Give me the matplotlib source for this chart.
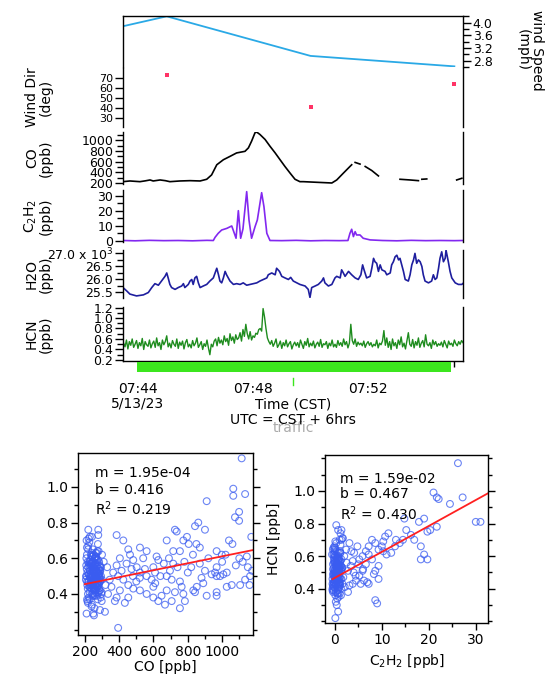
import numpy as np
import matplotlib.pyplot as plt
from matplotlib.ticker import MultipleLocator, FixedLocator
from matplotlib.patches import Rectangle
import matplotlib.transforms as mtransforms

plt.rcParams['font.family'] = 'DejaVu Sans'
plt.rcParams['font.size'] = 10
plt.rcParams['axes.linewidth'] = 1.0

# --- time series (time in minutes after 07:00 CST) ---
wind_time = [40.0, 45.0, 50.0, 55.0]
wind_speed = [3.17, 4.20, 2.95, 2.62]
wdir_time = [45.0, 50.0, 55.0]
wind_dir = [72, 41, 64]

nan = np.nan
co_time = [43.48, 43.72, 44.07, 44.25, 44.42, 44.53, 44.77, 44.95, 45.11, 45.46, 45.81, 46.16,
           46.39, 46.56, 46.74, 46.97, 47.20, 47.43, 47.72, 47.84, 47.95, 48.07, 48.13, 48.24,
           48.42, 48.59, 48.77, 48.94, 49.11, 49.29, 49.46, 49.63, 49.75, 50.22, 50.74, 50.91,
           51.14, 51.37, 51.43, 51.49, 51.55, 51.72, 51.81, 51.90, 52.13, 52.36, 52.70, 53.11,
           53.46, 53.75, 53.81, 53.87, 54.04, 54.50, 55.08, 55.26]
co_ppb = [225, 238, 225, 240, 257, 238, 257, 244, 225, 238, 244, 238,
          270, 352, 543, 638, 701, 766, 796, 861, 987, 1147, 1158, 1114,
          1019, 892, 766, 638, 511, 385, 270, 225, 225, 213, 200, 257,
          385, 511, 543, nan, 587, 556, nan, 511, 434, 333, nan, 270,
          257, 244, nan, 270, 276, nan, 257, 289]

c2h2_time = [43.48, 43.90, 44.40, 44.90, 45.40, 45.90, 46.40, 46.62, 46.68, 46.79, 46.91, 47.09,
             47.26, 47.31, 47.41, 47.49, 47.57, 47.65, 47.78, 47.86, 47.95, 48.07, 48.15, 48.30,
             48.38, 48.48, 48.59, 49.00, 49.50, 50.00, 50.50, 51.00, 51.30, 51.37, 51.43, 51.49,
             51.55, 51.60, 51.72, 51.83, 52.07, 52.50, 53.00, 53.50, 54.00, 54.50, 55.00, 55.30]
c2h2_ppb = [0.3, 0.1, 0.4, 0.2, 0.3, 0.1, 0.4, 0.3, 2.4, 5.1, 7.3, 8.4,
            10.0, 7.3, 1.8, 20.2, 1.8, 8.0, 32.9, 14.0, 1.8, 9.5, 14.0, 32.2,
            22.9, 5.1, 0.3, 0.2, 0.4, 0.1, 0.3, 0.2, 0.3, 5.1, 7.8, 2.9,
            6.2, 4.0, 4.0, 1.8, 0.7, 0.3, 0.1, 0.4, 0.2, 0.3, 0.2, 0.3]

h2o_time = [43.48, 43.61, 43.72, 43.95, 44.19, 44.36, 44.48, 44.59, 44.71, 44.82, 44.94, 45.00,
            45.05, 45.11, 45.17, 45.29, 45.40, 45.52, 45.58, 45.63, 45.75, 45.81, 45.87, 45.92,
            45.98, 46.04, 46.10, 46.16, 46.27, 46.39, 46.50, 46.62, 46.68, 46.74, 46.80, 46.85,
            46.91, 46.97, 47.03, 47.08, 47.20, 47.32, 47.43, 47.55, 47.66, 47.78, 47.90, 48.01,
            48.13, 48.24, 48.36, 48.48, 48.53, 48.65, 48.77, 48.82, 48.92, 49.00, 49.11, 49.23,
            49.31, 49.40, 49.52, 49.63, 49.81, 49.92, 49.98, 50.04, 50.16, 50.27, 50.39, 50.45,
            50.50, 50.62, 50.74, 50.85, 50.91, 51.03, 51.08, 51.14, 51.20, 51.32, 51.43, 51.55,
            51.66, 51.75, 51.81, 51.86, 51.95, 52.07, 52.13, 52.19, 52.24, 52.30, 52.36, 52.42,
            52.48, 52.59, 52.65, 52.77, 52.82, 52.88, 52.94, 53.00, 53.06, 53.11, 53.17, 53.23,
            53.29, 53.40, 53.46, 53.52, 53.58, 53.63, 53.69, 53.75, 53.81, 53.87, 53.92, 53.98,
            54.10, 54.21, 54.27, 54.33, 54.39, 54.45, 54.50, 54.56, 54.62, 54.68, 54.71, 54.79,
            54.85, 54.91, 55.03, 55.14, 55.26, 55.32]
h2o_ppb_k = [25.68, 25.55, 25.43, 25.36, 25.40, 25.49, 25.68, 25.83, 25.77, 25.93, 26.11, 26.24,
             26.05, 25.80, 25.68, 25.61, 25.68, 25.74, 25.83, 25.68, 25.80, 25.93, 25.99, 25.80,
             26.05, 26.11, 25.86, 25.68, 25.74, 25.80, 25.93, 26.05, 26.24, 26.42, 26.17, 25.93,
             25.86, 26.05, 26.30, 26.17, 25.93, 25.80, 25.83, 25.80, 25.86, 25.77, 25.80, 25.83,
             25.86, 25.93, 25.99, 26.05, 26.17, 26.24, 26.17, 26.42, 26.30, 26.11, 26.05, 25.99,
             26.07, 25.93, 25.86, 25.80, 25.74, 25.61, 25.30, 25.68, 25.74, 25.80, 25.93, 26.05,
             25.86, 25.74, 25.80, 26.05, 26.11, 26.05, 26.36, 26.24, 26.11, 26.30, 26.17, 26.05,
             25.99, 26.17, 26.55, 26.36, 26.05, 26.11, 26.42, 26.80, 26.67, 26.61, 26.30, 26.55,
             26.36, 26.30, 26.17, 26.24, 26.55, 26.67, 26.86, 26.92, 26.74, 26.80, 26.55, 26.30,
             25.99, 25.93, 26.17, 26.55, 26.74, 26.99, 26.61, 26.74, 26.67, 26.49, 26.17, 25.93,
             25.86, 25.93, 26.17, 25.99, 26.05, 26.42, 26.80, 27.05, 26.67, 26.80, 27.11, 26.67,
             26.30, 26.05, 25.86, 25.80, 25.80, 25.86]

# HCN logged every 3 s, starting 07:43:30
hcn_start = 43.50
hcn_step = 0.05
hcn_ppb = [
    0.52, 0.45, 0.58, 0.41, 0.55, 0.48, 0.60, 0.44, 0.50, 0.57, 0.42, 0.53, 0.47, 0.61, 0.40, 0.55, 0.49, 0.46, 0.58, 0.43,
    0.51, 0.56, 0.44, 0.62, 0.47, 0.53, 0.40, 0.58, 0.49, 0.55, 0.66, 0.45, 0.52, 0.43, 0.57, 0.50, 0.46, 0.60, 0.42, 0.54,
    0.48, 0.56, 0.41, 0.53, 0.59, 0.45, 0.50, 0.43, 0.57, 0.47, 0.52, 0.62, 0.44, 0.49, 0.55, 0.40, 0.51, 0.46, 0.58, 0.43,
    0.30, 0.50, 0.45, 0.56, 0.60, 0.47, 0.63, 0.52, 0.58, 0.49, 0.66, 0.55, 0.61, 0.48, 0.70, 0.57, 0.64, 0.52, 0.68, 0.59,
    0.62, 0.72, 0.56, 0.78, 0.65, 0.88, 0.70, 0.60, 0.74, 0.58, 0.66, 0.63, 0.71, 0.69, 0.78, 0.80, 0.75, 1.18, 1.02, 0.80,
    0.62, 0.55, 0.50, 0.57, 0.46, 0.52, 0.60, 0.44, 0.49, 0.56, 0.42, 0.53, 0.47, 0.58, 0.45, 0.51, 0.55, 0.41, 0.49, 0.54,
    0.47, 0.53, 0.44, 0.58, 0.50, 0.42, 0.55, 0.48, 0.61, 0.45, 0.52, 0.47, 0.56, 0.43, 0.50, 0.54, 0.46, 0.59, 0.44, 0.51,
    0.49, 0.55, 0.42, 0.52, 0.47, 0.58, 0.45, 0.50, 0.44, 0.57, 0.48, 0.53, 0.46, 0.60, 0.49, 0.55, 0.43, 0.52, 0.88, 0.57,
    0.50, 0.60, 0.46, 0.54, 0.49, 0.52, 0.47, 0.56, 0.44, 0.51, 0.55, 0.48, 0.53, 0.45, 0.50, 0.47, 0.58, 0.43, 0.52, 0.49,
    0.56, 0.76, 0.48, 0.62, 0.44, 0.55, 0.40, 0.60, 0.47, 0.53, 0.42, 0.58, 0.49, 0.64, 0.45, 0.52, 0.41, 0.57, 0.72, 0.50,
    0.46, 0.59, 0.43, 0.55, 0.48, 0.62, 0.44, 0.52, 0.57, 0.45, 0.68, 0.50, 0.47, 0.53, 0.42, 0.58, 0.49, 0.55, 0.46, 0.51,
    0.48, 0.54, 0.45, 0.57, 0.50, 0.43, 0.56, 0.49, 0.52, 0.46, 0.58, 0.51, 0.47, 0.55, 0.50, 0.57, 0.53]

traffic_start, traffic_end = 43.97, 54.89
traffic_mark = 49.39

# --- scatter data ---
sc_co = [1114, 1065, 1065, 1134, 1099, 1099, 1075, 900, 910, 842, 861, 725, 735, 677, 774, 795, 805, 715, 754, 850,
         870, 968, 998, 1170, 1144, 1040, 1060, 1163, 1175, 1134, 1105, 1056, 1027, 968, 959, 939, 968, 988, 1007, 1027,
         968, 968, 910, 890, 852, 832, 842, 754, 764, 774, 783, 754, 715, 696, 677, 706, 618, 628, 599, 609,
         521, 560, 540, 463, 482, 443, 472, 502, 404, 385, 414, 365, 394, 424, 453, 482, 521, 560, 599, 628,
         667, 706, 647, 453, 433, 404, 385, 375, 394, 385, 453, 424, 278, 278, 229, 220, 560, 589, 599, 550,
         521, 677, 725, 210, 249, 288, 317, 330, 345, 320, 355, 310, 335, 300, 480, 500, 520, 610, 640, 660,
         690, 740, 780, 800, 820, 830, 870, 880, 900, 920, 1000, 1020, 1080, 1100, 1120, 1150, 1160,
         215, 222, 230, 238, 245, 252, 260, 268, 275, 283, 290, 298, 212, 226, 234, 242, 249, 257, 264, 271,
         279, 286, 294, 218, 225, 233, 240, 248, 255, 262, 270, 277, 285, 292, 210, 221, 236, 244, 251, 259,
         266, 273, 281, 288, 296, 216, 228, 239, 246, 254, 261, 269, 276, 284, 291, 213, 224, 231, 243, 250,
         258, 265, 272, 280, 287, 235, 247, 256, 241, 253, 263, 232, 245, 258, 239]
sc_hcn_co = [1.16, 0.99, 0.95, 0.96, 0.86, 0.81, 0.83, 0.76, 0.92, 0.78, 0.80, 0.76, 0.75, 0.70, 0.70, 0.72, 0.68, 0.64, 0.64, 0.68,
             0.66, 0.64, 0.62, 0.72, 0.61, 0.70, 0.68, 0.50, 0.53, 0.48, 0.45, 0.45, 0.44, 0.55, 0.52, 0.51, 0.50, 0.50, 0.51, 0.52,
             0.41, 0.39, 0.39, 0.46, 0.44, 0.42, 0.41, 0.47, 0.44, 0.40, 0.36, 0.32, 0.57, 0.53, 0.50, 0.48, 0.61, 0.59, 0.55, 0.52,
             0.66, 0.64, 0.60, 0.62, 0.59, 0.57, 0.54, 0.55, 0.60, 0.56, 0.53, 0.52, 0.50, 0.48, 0.45, 0.43, 0.42, 0.40, 0.38, 0.36,
             0.34, 0.36, 0.39, 0.38, 0.35, 0.42, 0.38, 0.36, 0.21, 0.73, 0.65, 0.70, 0.76, 0.73, 0.72, 0.76, 0.50, 0.48, 0.44, 0.54,
             0.52, 0.42, 0.41, 0.29, 0.29, 0.31, 0.30, 0.55, 0.48, 0.45, 0.44, 0.58, 0.40, 0.62, 0.50, 0.47, 0.49, 0.46, 0.50, 0.57,
             0.60, 0.55, 0.58, 0.52, 0.55, 0.62, 0.57, 0.49, 0.53, 0.60, 0.58, 0.62, 0.56, 0.60, 0.58, 0.55, 0.45,
             0.52, 0.47, 0.58, 0.43, 0.50, 0.62, 0.45, 0.55, 0.40, 0.48, 0.53, 0.36, 0.66, 0.44, 0.51, 0.57, 0.39, 0.49, 0.60, 0.46,
             0.54, 0.42, 0.50, 0.35, 0.56, 0.48, 0.63, 0.44, 0.52, 0.41, 0.59, 0.47, 0.54, 0.38, 0.70, 0.51, 0.45, 0.61, 0.43, 0.56,
             0.49, 0.64, 0.46, 0.53, 0.40, 0.58, 0.50, 0.33, 0.55, 0.47, 0.61, 0.44, 0.68, 0.52, 0.48, 0.37, 0.57, 0.45, 0.53, 0.50,
             0.42, 0.59, 0.46, 0.51, 0.56, 0.49, 0.54, 0.47, 0.72, 0.28, 0.52, 0.45, 0.50, 0.39, 0.61]

sc_c2h2 = [26.2, 21.0, 21.7, 22.1, 24.5, 27.2, 30.0, 31.0, 20.3, 19.7, 17.9, 14.8, 19.0, 21.7, 15.2, 14.5, 16.2, 16.9, 13.8, 12.8,
           11.4, 10.7, 10.3, 10.0, 10.3, 11.0, 18.3, 19.0, 19.7, 18.3, 7.9, 8.6, 7.2, 9.3, 6.6, 7.2, 5.9, 7.9, 6.6, 4.8,
           4.1, 5.2, 3.8, 3.1, 2.4, 3.4, 2.8, 9.3, 8.6, 8.3, 9.3, 5.9, 5.2, 4.5, 5.5, 3.8, 2.1, 3.1, 6.2, 6.9,
           7.2, 8.6, 9.0, 2.8, 0.3, 0.7, 1.7, 1.4, 1.0, 12.0, 13.0, 4.0, 5.0, 6.0, 2.0, 1.8, 2.5, 3.5, 4.4, 1.5,
           -0.4, 0.2, 0.8, -0.2, 0.5, 1.1, 0.0, 0.6, -0.5, 0.3, 0.9, 1.3, -0.1, 0.4, 0.7, 1.0, -0.3, 0.1, 0.6, 1.2,
           0.2, -0.4, 0.5, 0.8, 0.0, 0.3, 1.1, -0.2, 0.6, 0.9, 0.4, -0.1, 0.7, 0.2, 1.4, 0.0, 0.5, -0.3, 0.8, 0.3,
           1.0, 0.1, 0.6, -0.2, 0.4, 0.9, 0.2, 0.7, -0.4, 0.5, 1.2, 0.0, 0.3, 0.8, 0.1, 0.6]
sc_hcn_c2h2 = [1.17, 0.99, 0.96, 0.95, 0.92, 0.96, 0.81, 0.81, 0.76, 0.75, 0.81, 0.83, 0.83, 0.78, 0.76, 0.70, 0.73, 0.70, 0.68, 0.66,
               0.74, 0.72, 0.69, 0.66, 0.63, 0.61, 0.66, 0.61, 0.58, 0.58, 0.70, 0.68, 0.66, 0.64, 0.63, 0.61, 0.60, 0.58, 0.55, 0.66,
               0.62, 0.58, 0.57, 0.68, 0.64, 0.54, 0.51, 0.54, 0.51, 0.49, 0.46, 0.51, 0.48, 0.45, 0.43, 0.43, 0.41, 0.42, 0.45, 0.44,
               0.43, 0.33, 0.31, 0.38, 0.79, 0.76, 0.71, 0.76, 0.70, 0.62, 0.70, 0.50, 0.55, 0.52, 0.60, 0.47, 0.56, 0.63, 0.48, 0.53,
               0.52, 0.47, 0.58, 0.43, 0.50, 0.62, 0.45, 0.55, 0.40, 0.48, 0.53, 0.36, 0.66, 0.44, 0.51, 0.57, 0.39, 0.49, 0.60, 0.46,
               0.54, 0.42, 0.50, 0.35, 0.56, 0.48, 0.63, 0.44, 0.52, 0.41, 0.59, 0.47, 0.54, 0.38, 0.70, 0.51, 0.45, 0.61, 0.43, 0.56,
               0.49, 0.64, 0.46, 0.53, 0.30, 0.58, 0.50, 0.26, 0.55, 0.47, 0.74, 0.44, 0.68, 0.52, 0.22, 0.37]

# background samples (low CO, near-zero C2H2) shared by both scatter plots
blob_co = [206, 219, 227, 235, 243, 251, 259, 267, 274, 282, 209, 217, 229, 237, 246, 253, 261, 270, 278, 286,
           211, 223, 231, 240, 248, 256, 263, 271, 279, 293, 207, 220, 228, 236, 244, 252, 260, 266, 275, 284,
           214, 225, 232, 241, 249, 257, 265, 272, 280, 289, 208, 218, 226, 234, 242, 250, 258, 268, 276, 297,
           212, 221, 230, 238, 247, 255, 262, 270, 277, 285, 215, 224, 233, 241, 249, 256, 264, 273, 281, 290,
           210, 219, 228, 237, 245, 253, 261, 269, 278, 287, 213, 222, 235, 243, 251, 259, 267, 274, 283, 299]
blob_c2h2 = [0.1, 0.7, -0.3, 1.2, 0.4, 0.9, -0.1, 0.6, 1.5, 0.2, 0.8, -0.5, 0.5, 1.0, 0.0, 0.3, 1.3, -0.2, 0.7, 0.4,
             1.1, -0.4, 0.6, 0.2, 0.9, 1.6, 0.0, 0.5, -0.1, 0.8, 0.3, 1.2, -0.3, 0.7, 0.1, 1.0, 0.4, -0.6, 0.6, 0.9,
             0.2, 1.4, -0.2, 0.5, 0.8, 0.0, 1.1, 0.3, -0.4, 0.7, 0.4, 1.3, 0.1, -0.1, 0.9, 0.6, 0.2, 1.5, -0.3, 0.5,
             0.8, 0.0, 0.4, 1.2, -0.5, 0.7, 0.3, 1.0, -0.2, 0.6, 0.1, 0.9, 1.4, -0.1, 0.5, 0.2, 0.8, -0.4, 1.1, 0.3,
             0.6, -0.3, 1.0, 0.2, 0.7, 1.3, 0.0, 0.4, -0.2, 0.9, 0.5, 1.6, 0.1, 0.8, -0.5, 0.3, 1.2, 0.6, -0.1, 0.4]
blob_hcn = [0.48, 0.55, 0.41, 0.62, 0.50, 0.44, 0.57, 0.39, 0.52, 0.46, 0.60, 0.43, 0.53, 0.47, 0.65, 0.42, 0.51, 0.56, 0.45, 0.49,
            0.54, 0.38, 0.59, 0.46, 0.52, 0.43, 0.63, 0.48, 0.41, 0.55, 0.50, 0.67, 0.44, 0.57, 0.40, 0.53, 0.47, 0.61, 0.37, 0.51,
            0.45, 0.58, 0.49, 0.34, 0.55, 0.60, 0.42, 0.52, 0.64, 0.47, 0.56, 0.40, 0.69, 0.50, 0.46, 0.58, 0.43, 0.53, 0.48, 0.41,
            0.62, 0.47, 0.53, 0.57, 0.39, 0.48, 0.54, 0.44, 0.59, 0.50, 0.36, 0.51, 0.46, 0.61, 0.52, 0.32, 0.57, 0.49, 0.43, 0.55,
            0.50, 0.65, 0.37, 0.49, 0.58, 0.54, 0.45, 0.63, 0.51, 0.42, 0.47, 0.71, 0.56, 0.40, 0.46, 0.60, 0.52, 0.44, 0.58, 0.48]

fit_co = (1.95e-4, 0.416, 0.219)
fit_c2h2 = (1.59e-2, 0.467, 0.430)

# --- layout helpers (pixel boxes on a 548x682 canvas) ---
W, H = 548, 682


def box(x0, y0, x1, y1):
    return [x0 / W, 1 - y1 / H, (x1 - x0) / W, (y1 - y0) / H]


def style_ts(ax, ylabel, label_x=53):
    ax.set_xlim(43.48, 55.30)
    ax.spines['top'].set_visible(False)
    ax.spines['bottom'].set_visible(False)
    ax.tick_params(axis='x', bottom=False, labelbottom=False)
    ax.tick_params(axis='y', direction='out', length=6, width=1, pad=1, labelsize=9)
    ax.tick_params(axis='y', which='minor', direction='out', length=4, width=1)
    ax.patch.set_alpha(0)
    ax.set_ylabel(ylabel, fontsize=10, linespacing=1.0)
    ax.yaxis.set_label_coords((label_x - 123) / 340, 0.5)


fig = plt.figure(figsize=(5.48, 6.82), dpi=100)

x0, x1 = 123, 463

# wind speed
ax_ws = fig.add_axes(box(x0, 16, x1, 67))
ax_ws.plot(wind_time, wind_speed, color='#2aa9e6', lw=1.3)
ax_ws.set_xlim(43.48, 55.30)
ax_ws.set_ylim(2.60, 4.21)
ax_ws.spines['bottom'].set_visible(False)
ax_ws.tick_params(axis='x', bottom=False, labelbottom=False)
ax_ws.yaxis.tick_right()
ax_ws.yaxis.set_major_locator(MultipleLocator(0.4))
ax_ws.yaxis.set_minor_locator(MultipleLocator(0.2))
ax_ws.tick_params(axis='y', direction='out', length=6, width=1, pad=1, labelsize=9)
ax_ws.tick_params(axis='y', which='minor', direction='out', length=4, width=1)
ax_ws.yaxis.set_label_position('right')
ax_ws.set_ylabel('wind Speed\n(mph)', rotation=270, fontsize=10, linespacing=1.0)
ax_ws.yaxis.set_label_coords((544 - x0) / 340, 0.33)

# wind direction
ax_wd = fig.add_axes(box(x0, 68, x1, 127))
ax_wd.plot(wdir_time, wind_dir, 's', color='#ff3366', ms=2.2, mew=0)
ax_wd.set_ylim(21.7, 79.3)
ax_wd.yaxis.set_major_locator(FixedLocator([30, 40, 50, 60, 70]))
style_ts(ax_wd, 'Wind Dir\n(deg)')
ax_wd.tick_params(axis='y', labelsize=8)

# CO
ax_co = fig.add_axes(box(x0, 132, x1, 184))
ax_co.plot(co_time, co_ppb, color='black', lw=1.2)
ax_co.set_ylim(181, 1160)
ax_co.yaxis.set_major_locator(FixedLocator([200, 400, 600, 800, 1000]))
ax_co.yaxis.set_minor_locator(FixedLocator([300, 500, 700, 900, 1100]))
style_ts(ax_co, 'CO\n(ppb)')

# acetylene
ax_c2 = fig.add_axes(box(x0, 190, x1, 242))
ax_c2.plot(c2h2_time, c2h2_ppb, color='#8228f0', lw=1.2)
ax_c2.set_ylim(-0.7, 34)
ax_c2.yaxis.set_major_locator(MultipleLocator(10))
ax_c2.yaxis.set_minor_locator(MultipleLocator(5))
style_ts(ax_c2, 'C$_2$H$_2$\n(ppb)')

# water vapour (thousands of ppb)
ax_h2o = fig.add_axes(box(x0, 250, x1, 298))
ax_h2o.plot(h2o_time, h2o_ppb_k, color='#1e1e9e', lw=1.2)
ax_h2o.set_ylim(25.28, 27.12)
ax_h2o.set_yticks([25.5, 26.0, 26.5, 27.0])
ax_h2o.set_yticklabels(['25.5', '26.0', '26.5', '27.0 x 10$^3$'])
ax_h2o.yaxis.set_minor_locator(MultipleLocator(0.25))
style_ts(ax_h2o, 'H2O\n(ppb)')

# HCN
hcn_time = hcn_start + hcn_step * np.arange(len(hcn_ppb))
ax_hcn = fig.add_axes(box(x0, 307, x1, 361))
ax_hcn.plot(hcn_time, hcn_ppb, color='#1e8c1e', lw=1.0)
ax_hcn.set_ylim(0.18, 1.21)
ax_hcn.yaxis.set_major_locator(MultipleLocator(0.2))
ax_hcn.yaxis.set_minor_locator(MultipleLocator(0.1))
style_ts(ax_hcn, 'HCN\n(ppb)')
ax_hcn.spines['bottom'].set_visible(True)
ax_hcn.tick_params(axis='x', bottom=True, labelbottom=True, direction='out', length=6, width=1,
                   pad=9, labelsize=10)
ax_hcn.tick_params(axis='x', which='minor', direction='out', length=4, width=1)
ax_hcn.set_xticks([44, 48, 52])
ax_hcn.set_xticklabels(['07:44\n5/13/23', '07:48', '07:52'], linespacing=1.05)
ax_hcn.xaxis.set_minor_locator(MultipleLocator(1))

# traffic period bar below the time axis
trans = mtransforms.blended_transform_factory(ax_hcn.transData, ax_hcn.transAxes)
ax_hcn.add_patch(Rectangle((traffic_start, -0.205), traffic_end - traffic_start, 0.19,
                           transform=trans, color='#3ce61e', clip_on=False, zorder=5, lw=0))
ax_hcn.plot([traffic_mark, traffic_mark], [-0.31, -0.44], transform=trans, color='#3ce61e',
            lw=1.0, clip_on=False)

fig.text(293 / W, 1 - 405 / H, 'Time (CST)', ha='center', va='center', fontsize=10)
fig.text(293 / W, 1 - 428 / H, 'traffic', ha='center', va='center', fontsize=10, color='#aaaaaa')
fig.text(293 / W, 1 - 420 / H, 'UTC = CST + 6hrs', ha='center', va='center', fontsize=10)

# --- scatter plots ---
def style_sc(ax):
    ax.tick_params(direction='out', length=5, width=1, labelsize=10, right=True, pad=2)
    ax.tick_params(which='minor', direction='out', length=3, width=1, right=True)


circ = dict(s=24, facecolors='none', edgecolors='#3a5cf0', linewidths=0.8, alpha=0.75)

ax_s1 = fig.add_axes(box(78, 453, 253, 635))
ax_s1.scatter(sc_co + blob_co, sc_hcn_co + blob_hcn, **circ)
m, b, r2 = fit_co
xf = np.array([200, 1180])
ax_s1.plot(xf, b + m * xf, color='#ff2020', lw=1.3)
ax_s1.set_xlim(160, 1180)
ax_s1.set_ylim(0.17, 1.19)
ax_s1.set_xticks([200, 400, 600, 800, 1000])
ax_s1.xaxis.set_minor_locator(MultipleLocator(100))
ax_s1.set_yticks([0.4, 0.6, 0.8, 1.0])
ax_s1.yaxis.set_minor_locator(MultipleLocator(0.1))
style_sc(ax_s1)
ax_s1.text(0.097, 0.89, 'm = %.2e' % m, transform=ax_s1.transAxes, va='center', fontsize=10)
ax_s1.text(0.097, 0.797, 'b = %.3f' % b, transform=ax_s1.transAxes, va='center', fontsize=10)
ax_s1.text(0.097, 0.692, 'R$^2$ = %.3f' % r2, transform=ax_s1.transAxes, va='center', fontsize=10)
ax_s1.text(0.5, -0.176, 'CO [ppb]', transform=ax_s1.transAxes, ha='center', va='center', fontsize=10)

ax_s2 = fig.add_axes(box(325, 455, 488, 623))
ax_s2.scatter(sc_c2h2 + blob_c2h2, sc_hcn_c2h2 + blob_hcn, **circ)
m, b, r2 = fit_c2h2
xf = np.array([-0.5, 32.6])
ax_s2.plot(xf, b + m * xf, color='#ff2020', lw=1.3)
ax_s2.set_xlim(-2.1, 32.6)
ax_s2.set_ylim(0.19, 1.22)
ax_s2.set_xticks([0, 10, 20, 30])
ax_s2.xaxis.set_minor_locator(MultipleLocator(5))
ax_s2.set_yticks([0.4, 0.6, 0.8, 1.0])
ax_s2.yaxis.set_minor_locator(MultipleLocator(0.1))
style_sc(ax_s2)
ax_s2.text(0.092, 0.857, 'm = %.2e' % m, transform=ax_s2.transAxes, va='center', fontsize=10)
ax_s2.text(0.092, 0.768, 'b = %.3f' % b, transform=ax_s2.transAxes, va='center', fontsize=10)
ax_s2.text(0.092, 0.649, 'R$^2$ = %.3f' % r2, transform=ax_s2.transAxes, va='center', fontsize=10)
ax_s2.text(0.503, -0.226, 'C$_2$H$_2$ [ppb]', transform=ax_s2.transAxes, ha='center', va='center',
           fontsize=10)
ax_s2.set_ylabel('HCN [ppb]', fontsize=10)
ax_s2.yaxis.set_label_coords((281 - 325) / 163, 0.5)

fig.savefig('out.png', dpi=100)
